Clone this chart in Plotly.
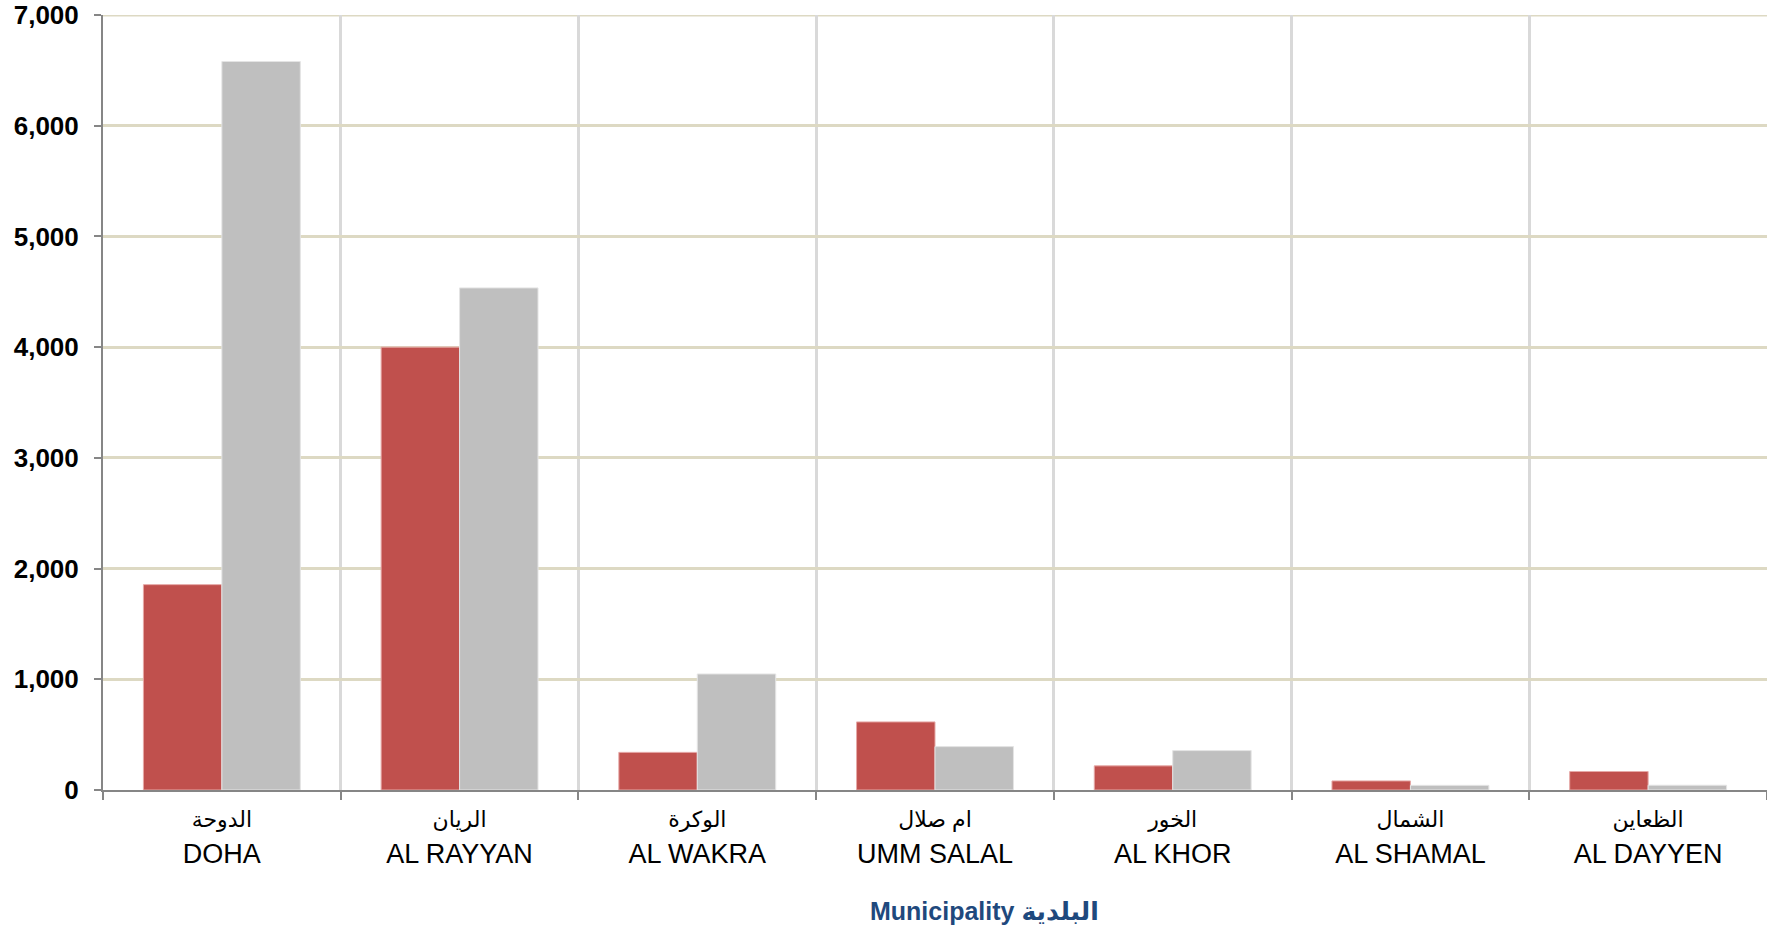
import plotly.graph_objects as go

arabic = ["الدوحة", "الريان", "الوكرة", "ام صلال", "الخور", "الشمال", "الظعاين"]
english = ["DOHA", "AL RAYYAN", "AL WAKRA", "UMM SALAL", "AL KHOR", "AL SHAMAL", "AL DAYYEN"]
series_red = [1855, 4000, 340, 615, 218, 82, 167]
series_gray = [6580, 4535, 1048, 392, 356, 42, 43]
yticks = [0, 1000, 2000, 3000, 4000, 5000, 6000, 7000]

labels = [f'<span style="font-size:22px">{a}</span><br>{e}' for a, e in zip(arabic, english)]

W, H = 1767, 931
L, T, B = 103, 15, 141
GRID_COLOR = "#DDD9C3"

fig = go.Figure()
fig.add_trace(go.Bar(x=english, y=series_red, marker=dict(color="#C0504D", line=dict(color="#E6A9A7", width=1))))
fig.add_trace(go.Bar(x=english, y=series_gray, marker=dict(color="#BFBFBF", line=dict(color="#E4E4E4", width=1))))

fig.update_layout(
    width=W, height=H,
    margin=dict(l=L, r=0, t=T, b=B),
    barmode="group", bargap=0.34, bargroupgap=0,
    showlegend=False,
    plot_bgcolor="white", paper_bgcolor="white",
    font=dict(family="Liberation Sans, Arial, DejaVu Sans, sans-serif", color="black"),
)
fig.update_xaxes(
    tickmode="array", tickvals=english, ticktext=labels,
    tickson="boundaries", ticks="outside", ticklen=8, tickcolor="#868686", tickwidth=2,
    showgrid=True, gridcolor="#D9D9D9", gridwidth=3,
    showline=True, linecolor="#868686", linewidth=2,
    tickfont=dict(size=27, color="black"),
    range=[-0.5, 6.5], automargin=False, ticklabelstandoff=3,
)
fig.update_yaxes(
    range=[0, yticks[-1]], tickvals=yticks, tickformat=",",
    ticks="outside", ticklen=7, tickcolor="#868686", tickwidth=2,
    showgrid=True, gridcolor=GRID_COLOR, gridwidth=3, zeroline=False,
    showline=True, linecolor="#868686", linewidth=2,
    tickfont=dict(size=26, color="black", family="Liberation Sans, Arial, sans-serif", weight="bold"),
    ticklabelstandoff=10, automargin=False,
)
# top gridline (plotly skips gridlines at the range end)
fig.add_shape(type="line", xref="paper", yref="y", x0=0, x1=1, y0=yticks[-1], y1=yticks[-1],
              line=dict(color=GRID_COLOR, width=3), layer="below")
plot_w = W - L
plot_h = H - T - B
fig.add_annotation(
    x=(985 - L) / plot_w, y=(790 - 911) / plot_h,
    xref="paper", yref="paper", xanchor="center", yanchor="middle", showarrow=False,
    text="<b>Municipality البلدية</b>",
    font=dict(size=25, color="#1F497D"),
)

fig.write_html("out.html", config={"displayModeBar": False},
               post_script="document.body.style.margin='0';document.body.style.overflow='hidden';")
